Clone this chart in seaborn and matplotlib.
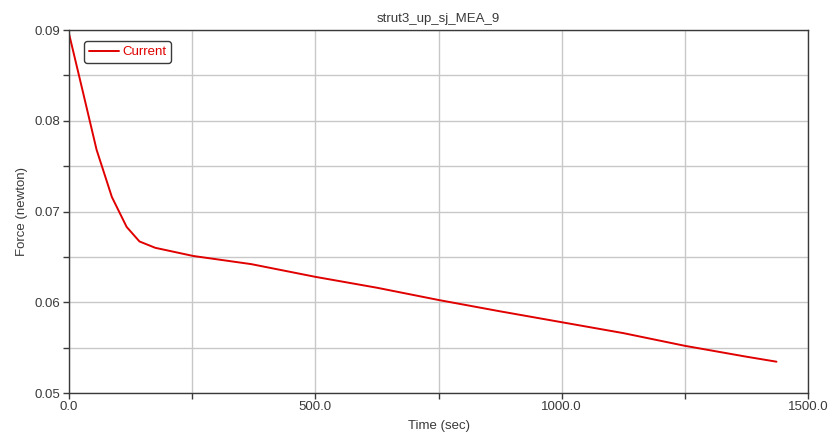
import matplotlib
matplotlib.use("Agg")
import matplotlib.pyplot as plt
from matplotlib.ticker import MultipleLocator, FormatStrFormatter
import seaborn as sns
import pandas as pd

# Force relaxation trace for strut3_up_sj_MEA_9
time_sec = [0, 29, 56, 87, 117, 143, 175, 252, 370, 500, 625, 750,
            875, 1000, 1125, 1250, 1375, 1436]
force_newton = [0.0896, 0.0830, 0.0768, 0.0716, 0.0683, 0.0667, 0.0660,
                0.0651, 0.0642, 0.0628, 0.0616, 0.06025, 0.0590, 0.0578,
                0.0566, 0.0552, 0.0540, 0.05345]
series_name = "Current"

df = pd.DataFrame({"Time (sec)": time_sec,
                   "Force (newton)": force_newton,
                   "series": series_name})

sns.set_theme(style="white")
plt.rcParams["font.family"] = ["Liberation Sans", "DejaVu Sans"]

text_color = "#3a3a3a"
grid_color = "#c8c8c8"
fs = 9.5

fig = plt.figure(figsize=(8.31, 4.40), dpi=100)
ax = fig.add_axes([69 / 831, 1 - 393 / 440, (808 - 69) / 831, (393 - 30) / 440])

sns.lineplot(data=df, x="Time (sec)", y="Force (newton)", hue="series",
             palette=["#e00000"], linewidth=1.4, ax=ax)

ax.set_xlim(0, 1500)
ax.set_ylim(0.05, 0.09)
ax.xaxis.set_major_locator(MultipleLocator(500))
ax.xaxis.set_minor_locator(MultipleLocator(250))
ax.yaxis.set_major_locator(MultipleLocator(0.01))
ax.yaxis.set_minor_locator(MultipleLocator(0.005))
ax.xaxis.set_major_formatter(FormatStrFormatter("%.1f"))
ax.yaxis.set_major_formatter(FormatStrFormatter("%.2f"))

ax.grid(True, which="both", color=grid_color, linewidth=1.0)
ax.set_axisbelow(True)
for s in ax.spines.values():
    s.set_color(text_color)
    s.set_linewidth(1.0)

ax.tick_params(axis="both", which="both", direction="out", length=4,
               width=1, color=text_color, labelcolor=text_color, labelsize=fs,
               left=True, bottom=True, pad=2)

ax.set_xlabel("Time (sec)", fontsize=fs, color=text_color, labelpad=5)
ax.set_ylabel("Force (newton)", fontsize=fs, color=text_color, labelpad=5)
ax.set_title("strut3_up_sj_MEA_9", fontsize=fs, color=text_color, pad=6)

leg = ax.legend(loc="upper left", bbox_to_anchor=(0.012, 0.987), fontsize=fs,
                frameon=True, fancybox=True, handlelength=2.3,
                handletextpad=0.2, borderpad=0.35, labelcolor="#e00000",
                title=None)
leg.get_frame().set_edgecolor(text_color)
leg.get_frame().set_linewidth(1.0)
leg.get_frame().set_alpha(1.0)

fig.savefig("out.png", dpi=100, facecolor="white")
